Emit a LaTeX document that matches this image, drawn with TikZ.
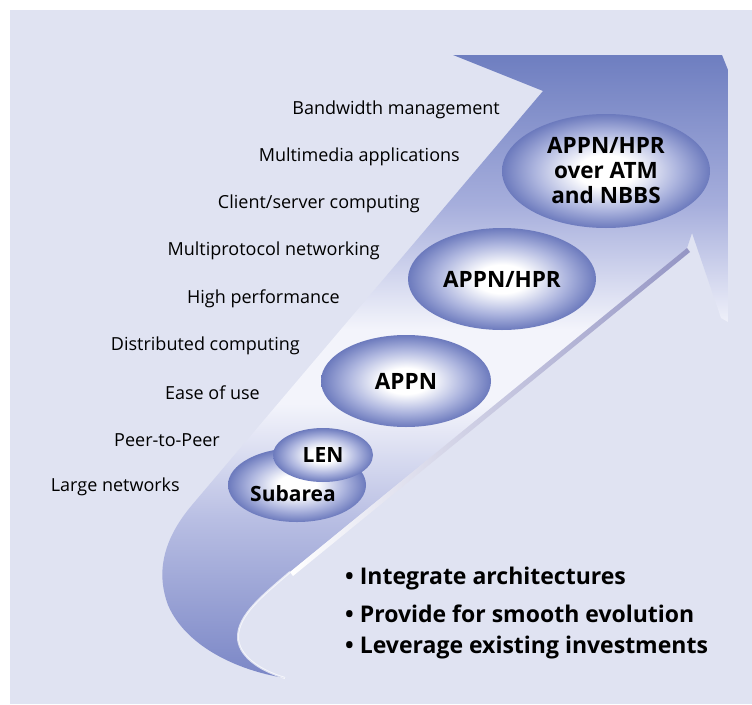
\documentclass[tikz,border=0pt]{standalone}
\usepackage{fontspec}
\setmainfont{Open Sans}
\usetikzlibrary{shapes.geometric,positioning}

\definecolor{bgpanel}{HTML}{E0E3F2}
\definecolor{arrowblue}{HTML}{6E7EC0}
\definecolor{arrowtail}{HTML}{7A86C6}
\definecolor{arrowmid}{HTML}{A6AEDC}
\definecolor{arrowlow}{HTML}{B8BEE3}
\definecolor{arrowlight}{HTML}{F3F4FB}
\definecolor{ovalrim}{HTML}{6C7ABD}
\definecolor{ovalmid}{HTML}{AEB6DF}
\definecolor{edgegrey}{HTML}{9495C4}

\pgfdeclareverticalshading{arrowfill}{100bp}{color(0bp)=(arrowtail); color(25bp)=(arrowtail);
  color(37.7bp)=(arrowlow); color(47bp)=(arrowlight); color(53bp)=(arrowlight);
  color(63bp)=(arrowmid); color(75bp)=(arrowblue); color(100bp)=(arrowblue)}
\pgfdeclareradialshading{ovalfill}{\pgfpoint{0bp}{0bp}}{color(0bp)=(white); color(7bp)=(white);
  color(17bp)=(ovalmid); color(25bp)=(ovalrim); color(50bp)=(ovalrim)}

\begin{document}
\begin{tikzpicture}[
    x=1pt, y=-1pt,
    oval/.style={ellipse, shading=ovalfill, inner sep=0pt, align=center,
                 font=\fontsize{22.5}{25}\selectfont\bfseries},
    small oval/.style={oval, font=\fontsize{21}{24}\selectfont\bfseries},
    feature/.style={anchor=east, inner sep=0pt, font=\fontsize{18}{21}\selectfont},
    goal/.style={anchor=west, inner sep=0pt, font=\fontsize{23}{27}\selectfont\bfseries}
]
\useasboundingbox (0,0) rectangle (752,704);
\fill[white] (0,0) rectangle (752,704);
\fill[bgpanel] (10,10) rectangle (752,704);

% the rising arrow
\path[shading=arrowfill] (453,55) -- (722,55) -- (728,70) -- (728,322) -- (721,318)
  -- (692,233) -- (687,248) -- (290,572)
  .. controls (262,596) and (238,615) .. (238,637)
  .. controls (238,655) and (258,670) .. (285,678)
  .. controls (235,670) and (185,645) .. (168,605)
  .. controls (155,570) and (165,537) .. (192,505)
  -- (543,91) -- cycle;
\shade[left color=white, right color=edgegrey] (290,572) -- (687,248) -- (690,252) -- (293,576) -- cycle;
\draw[white, line width=2pt, opacity=.7] (290,572) .. controls (262,596) and (238,615) .. (238,637)
  .. controls (238,655) and (258,670) .. (285,678);

% architectures
\node[small oval, minimum width=138, minimum height=74] (subarea) at (297,485) {};
\node[small oval, minimum width=100, minimum height=54] (len) at (323,455) {LEN};
\node[inner sep=0pt, font=\fontsize{21}{24}\selectfont\bfseries] (subtxt) at (293,494) {Subarea};
\node[oval, minimum width=170, minimum height=92] (appn) at (406,381) {APPN};
\node[oval, minimum width=188, minimum height=102] (hpr) at (502,279) {APPN/HPR};
\node[oval, minimum width=208, minimum height=114] (atm) at (606,171) {APPN/HPR\\over ATM\\and NBBS};

% requirements
\foreach \txt [count=\i] in {Bandwidth management, Multimedia applications,
    Client/server computing, Multiprotocol networking, High performance,
    Distributed computing, Ease of use, Peer-to-Peer, Large networks}
  \node[feature] (f\i) at ({500-40*(\i-1)},{110+47.1*(\i-1)}) {\txt};

% goals
\node[goal] (g1) at (345,579) {• Integrate architectures};
\node[goal] (g2) at (345,614) {• Provide for smooth evolution};
\node[goal] (g3) at (345,648) {• Leverage existing investments};
\end{tikzpicture}
\end{document}
